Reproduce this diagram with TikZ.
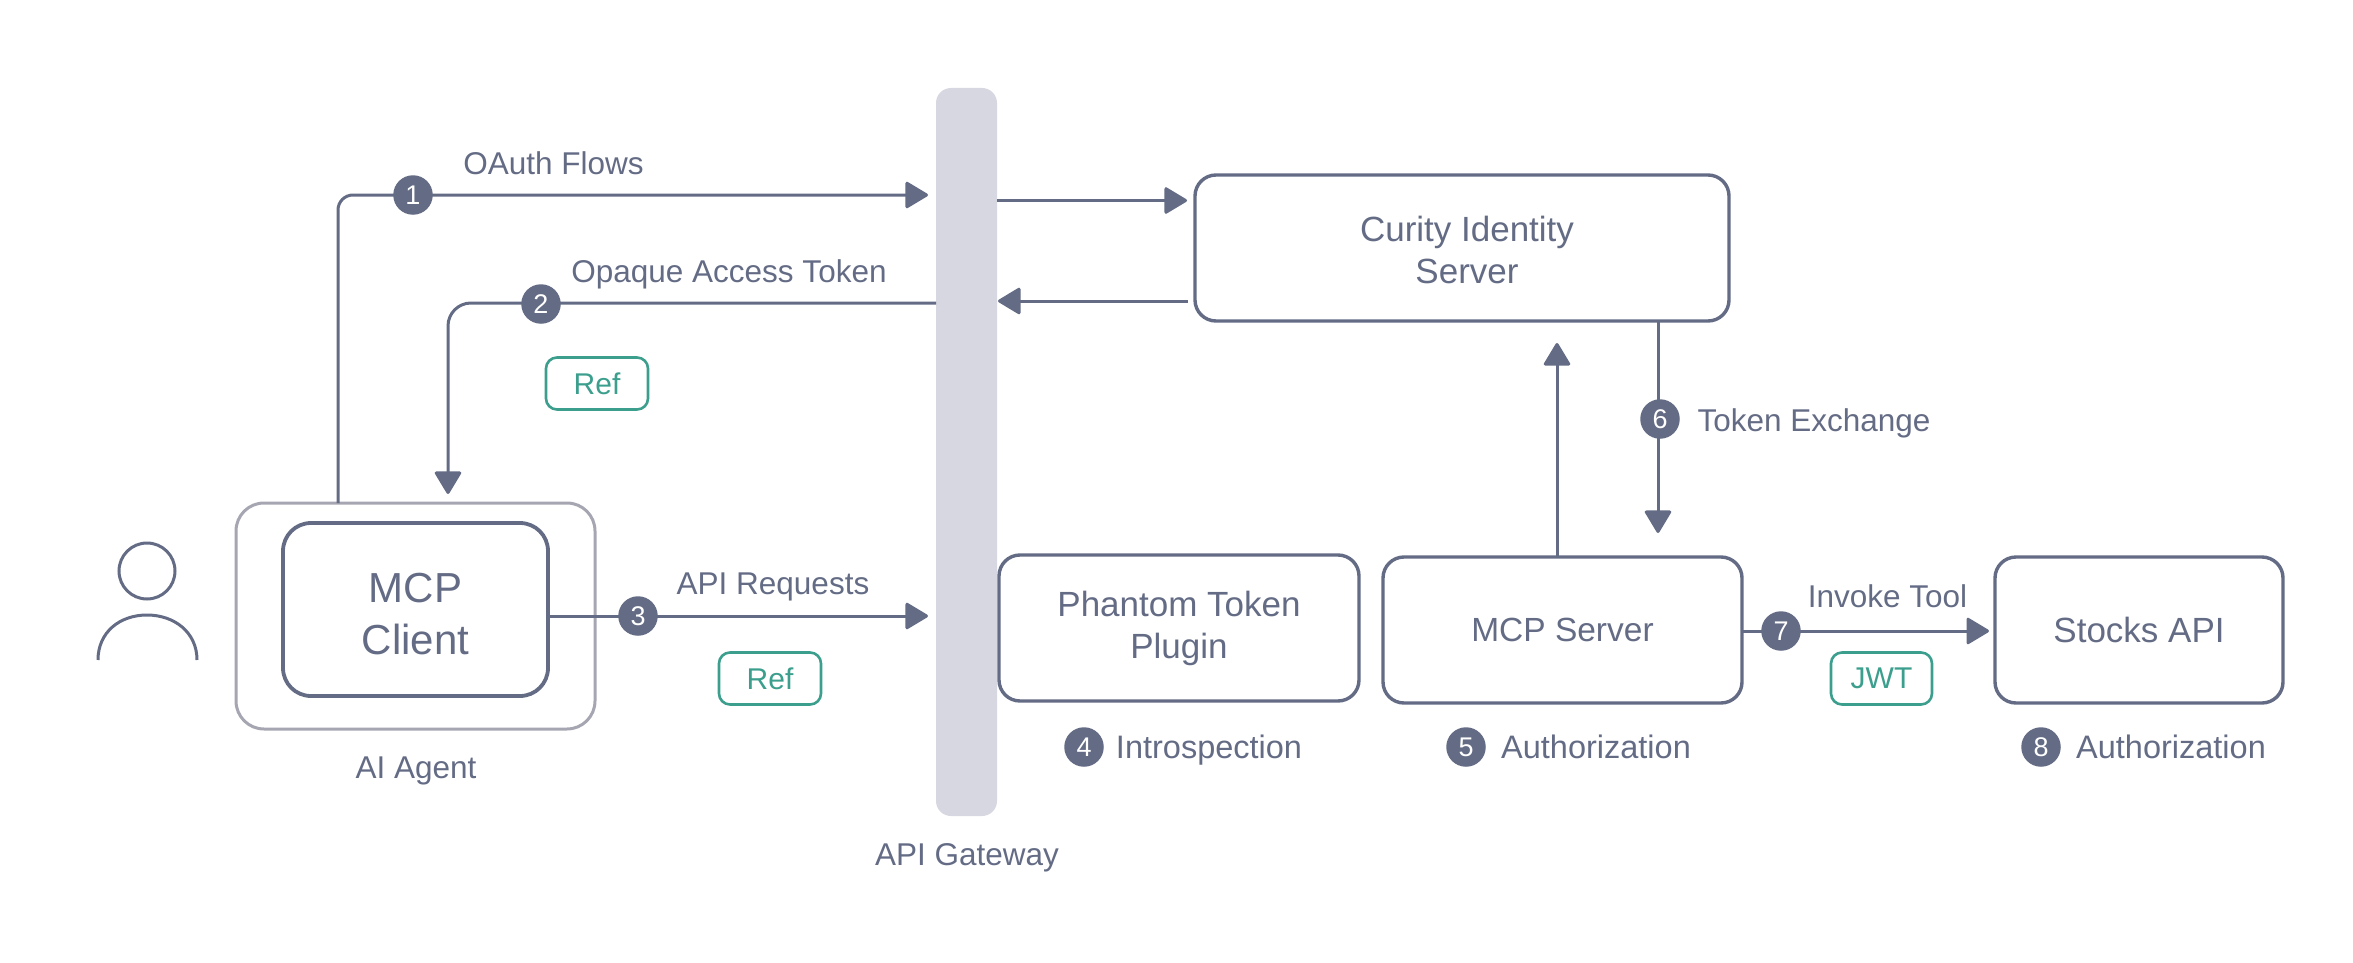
\documentclass[tikz,border=0pt]{standalone}
\usepackage{fontspec}
\setmainfont{Liberation Sans}
\usetikzlibrary{arrows.meta,calc}
\definecolor{slate}{HTML}{646C85}
\definecolor{gatefill}{HTML}{D6D7E0}
\definecolor{agentline}{HTML}{A6A6B2}
\definecolor{teal}{HTML}{3C9F8D}
\tikzset{
  x=1pt,y=-1pt,
  every node/.style={inner sep=0pt,outer sep=0pt,text=slate,align=center},
  boxnode/.style={draw=slate,line width=3.4pt,rounded corners=21pt,fill=white,font=\fontsize{35}{42}\selectfont},
  agentbox/.style={draw=agentline,line width=3pt,rounded corners=28pt,fill=white},
  clientbox/.style={draw=slate,line width=3.8pt,rounded corners=28pt,fill=white},
  gate/.style={fill=gatefill,rounded corners=15pt},
  tagnode/.style={draw=teal,line width=2.6pt,rounded corners=11pt,fill=white,text=teal,minimum height=52pt,font=\fontsize{30}{36}\selectfont},
  badge/.style={circle,fill=slate,text=white,minimum size=39.5pt,font=\fontsize{27}{30}\selectfont},
  lbl/.style={anchor=base,font=\fontsize{31.5}{40}\selectfont},
  lblwide/.style={anchor=base,font=\fontsize{32.5}{40}\selectfont},
  conn/.style={draw=slate,line width=3pt,rounded corners=15pt},
  arr/.style={conn,-{Triangle[length=24pt,width=28pt,round]}},
  person/.style={draw=slate,line width=3pt},
}
\begin{document}
\begin{tikzpicture}
\useasboundingbox (0,0) rectangle (2353,963);
% boxes
\node[gate,minimum width=61pt,minimum height=728pt] (gw) at (966.5,452) {};
\node[agentbox,minimum width=359pt,minimum height=226pt] (agent) at (415.5,616) {};
\node[clientbox,minimum width=265pt,minimum height=173pt,
  label={[yshift=-5pt,font=\fontsize{42}{52}\selectfont]center:MCP\\Client}] (client) at (415.5,609.5) {};
\node[boxnode,minimum width=534pt,minimum height=146pt,
  label={[xshift=5pt,yshift=-2pt,font=\fontsize{35}{42}\selectfont]center:Curity Identity\\Server}] (curity) at (1462,248) {};
\node[boxnode,minimum width=360pt,minimum height=146pt] (phantom) at (1179,628) {Phantom Token\\Plugin};
\node[boxnode,minimum width=359pt,minimum height=146pt,font=\fontsize{33.5}{42}\selectfont] (mcp) at (1562.5,630) {MCP Server};
\node[boxnode,minimum width=288pt,minimum height=146pt] (stocks) at (2139,630) {Stocks API};
% connector free ends
\coordinate (c1a) at (338,503);
\coordinate (c1b) at (338,195);
\coordinate (c1c) at (928,195);
\coordinate (c2a) at (936,303);
\coordinate (c2b) at (448,303);
\coordinate (c2c) at (448,494);
\coordinate (c3c) at (928,616);
\coordinate (c4a) at (997,200.5);
\coordinate (c4c) at (1187,200.5);
\coordinate (c5a) at (1188,301);
\coordinate (c5c) at (998,301);
\coordinate (c6a) at (1557,557);
\coordinate (c6c) at (1557,343);
\coordinate (c7a) at (1658,321);
\coordinate (c7c) at (1658,533);
\coordinate (c8c) at (1989,631);
% connectors
\draw[arr] (c1a) -- (c1b) -- (c1c);
\draw[arr,rounded corners=23pt] (c2a) -- (c2b) -- (c2c);
\draw[arr,rounded corners=0pt] (client.east |- c3c) -- (c3c);
\draw[arr] (c4a) -- (c4c);
\draw[arr] (c5a) -- (c5c);
\draw[arr] (c6a) -- (c6c);
\draw[arr] (c7a) -- (c7c);
\draw[arr] (mcp.east |- c8c) -- (c8c);
% badges
\node[badge] (b1) at (413,195) {1};
\node[badge] (b2) at (541,304) {2};
\node[badge] (b3) at (638,616) {3};
\node[badge] (b4) at (1084,747) {4};
\node[badge] (b5) at (1466,747) {5};
\node[badge] (b6) at (1660,419) {6};
\node[badge] (b7) at (1781,631) {7};
\node[badge] (b8) at (2041,747) {8};
% tags
\node[tagnode,minimum width=102pt] (r1) at (597,383.5) {Ref};
\node[tagnode,minimum width=102pt] (r2) at (770,678.5) {Ref};
\node[tagnode,minimum width=101pt] (jwt) at (1881.5,678.5) {JWT};
% labels
\node[lbl] (l1) at (553.5,174.5) {OAuth Flows};
\node[lbl] (l2) at (729,282.5) {Opaque Access Token};
\node[lbl] (l3) at (773,594) {API Requests};
\node[lbl] (l4) at (416,778.5) {AI Agent};
\node[lbl] (l5) at (967,865) {API Gateway};
\node[lbl] (l6) at (1814,431) {Token Exchange};
\node[lbl] (l7) at (1887.5,607) {Invoke Tool};
\node[lblwide] (l8) at (1209,758) {Introspection};
\node[lblwide] (l9) at (1596,758) {Authorization};
\node[lblwide] (l10) at (2171,758) {Authorization};
% person
\draw[person] (147,571) circle (28);
\draw[person] (98,660) .. controls (98,632) and (120,615) .. (147,615) .. controls (174,615) and (197,632) .. (197,660);
\end{tikzpicture}
\end{document}
